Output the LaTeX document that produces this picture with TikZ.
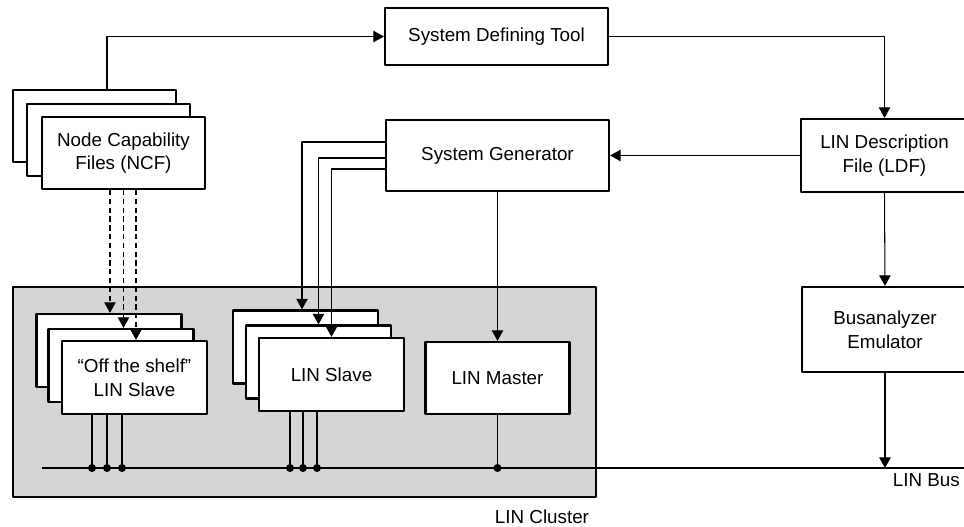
\documentclass[tikz,border=0pt]{standalone}
\usepackage{fontspec}
\setmainfont{Liberation Sans}
\usetikzlibrary{arrows.meta}

\begin{document}
\begin{tikzpicture}[x=0.02cm, y=-0.02cm, >={Triangle[length=6pt,width=6.5pt]},
		line join=round,
		conn/.style={line width=0.6pt},
		blk/.style={draw, line width=1.3pt, fill=white, inner sep=0pt, align=center,
			font=\fontsize{10.7}{13.5}\selectfont},
		cluster/.style={draw, line width=1.3pt, fill=gray!33, inner sep=0pt},
		tap/.style={circle, fill, inner sep=0pt, minimum size=0.16cm}]

		\useasboundingbox (0,0) rectangle (964,527);
		\clip (0,0) rectangle (964,527);

		% ================= LIN cluster =================
		\node[cluster, minimum width=11.66cm, minimum height=4.2cm] (clu) at (304.5,392) {};
		\node[font=\fontsize{10.7}{13.5}\selectfont] (cluLbl) at (542,517) {LIN Cluster};

		% ================= top row =================
		\node[blk, minimum width=4.46cm, minimum height=1.14cm] (sdt) at (496.5,36.5) {System Defining Tool};

		\node[blk, minimum width=3.26cm, minimum height=1.44cm] (ncfA) at (94.5,126) {};
		\node[blk, minimum width=3.26cm, minimum height=1.44cm] (ncfB) at (108.5,140) {};
		\node[blk, minimum width=3.26cm, minimum height=1.44cm] (ncf) at (123.5,153) {Node Capability\\Files (NCF)};

		\node[blk, minimum width=4.46cm, minimum height=1.42cm] (sg) at (497.5,155.5) {System Generator};
		\node[blk, minimum width=3.34cm, minimum height=1.46cm] (ldf) at (884.5,155.5) {LIN Description\\File (LDF)};
		\node[blk, minimum width=3.32cm, minimum height=1.7cm] (busa) at (885,329.5) {Busanalyzer\\Emulator};

		% ================= nodes in the cluster =================
		\node[blk, minimum width=2.9cm, minimum height=1.46cm] (otsA) at (109,350.5) {};
		\node[blk, minimum width=2.9cm, minimum height=1.46cm] (otsB) at (121,365.5) {};
		\node[blk, minimum width=2.9cm, minimum height=1.46cm] (ots) at (134.5,377.5) {``Off the shelf''\\LIN Slave};

		\node[blk, minimum width=2.9cm, minimum height=1.46cm] (slvA) at (305.5,347) {};
		\node[blk, minimum width=2.9cm, minimum height=1.46cm] (slvB) at (318.5,362) {};
		\node[blk, minimum width=2.9cm, minimum height=1.46cm] (slv) at (331.5,374.5) {LIN Slave};

		\node[blk, minimum width=2.88cm, minimum height=1.44cm] (master) at (497.5,378) {LIN Master};

		% ================= LIN bus =================
		\coordinate (busL) at (42,468);
		\coordinate (busR) at (970,468);
		\draw[conn] (busL) -- (busR);
		\node[anchor=east, font=\fontsize{10.7}{13.5}\selectfont] (busLbl) at (966,480) {LIN Bus};

		% ================= connectors =================
		\draw[conn, ->] ([xshift=0.25cm]ncfA.north) |- (sdt.west);
		\draw[conn, ->] (sdt.east) -| (ldf.north);
		\draw[conn, ->] (ldf.west) -- (sg.east);
		\draw[conn, ->] (ldf.south) -- (busa.north);
		\draw[conn, ->] (busa.south) -- (busa.south |- busL);
		\draw[conn, ->] (sg.south) -- (master.north);

		\draw[conn, ->] ([yshift=0.27cm]sg.west) -| ([xshift=-0.07cm]slvA.north);
		\draw[conn, ->] ([yshift=-0.05cm]sg.west) -| (slvB.north);
		\draw[conn, ->] ([yshift=-0.27cm]sg.west) -| (slv.north);

		\foreach \dx/\tgt in {-0.27/otsA, 0/otsB, 0.25/ots} {
			\draw[conn, ->, dash pattern=on 3pt off 2pt] ([xshift=\dx cm]ncf.south) coordinate (d)
				-- (d |- \tgt.north);
		}

		% drops onto the bus
		\foreach \dx in {-0.85, -0.55, -0.25} {
			\draw[conn] ([xshift=\dx cm]ots.south) coordinate (t) -- (t |- busL) node[tap] {};
		}
		\foreach \dx in {-0.83, -0.57, -0.29} {
			\draw[conn] ([xshift=\dx cm]slv.south) coordinate (t) -- (t |- busL) node[tap] {};
		}
		\draw[conn] (master.south) -- (master.south |- busL) node[tap] {};

	\end{tikzpicture}
\end{document}
